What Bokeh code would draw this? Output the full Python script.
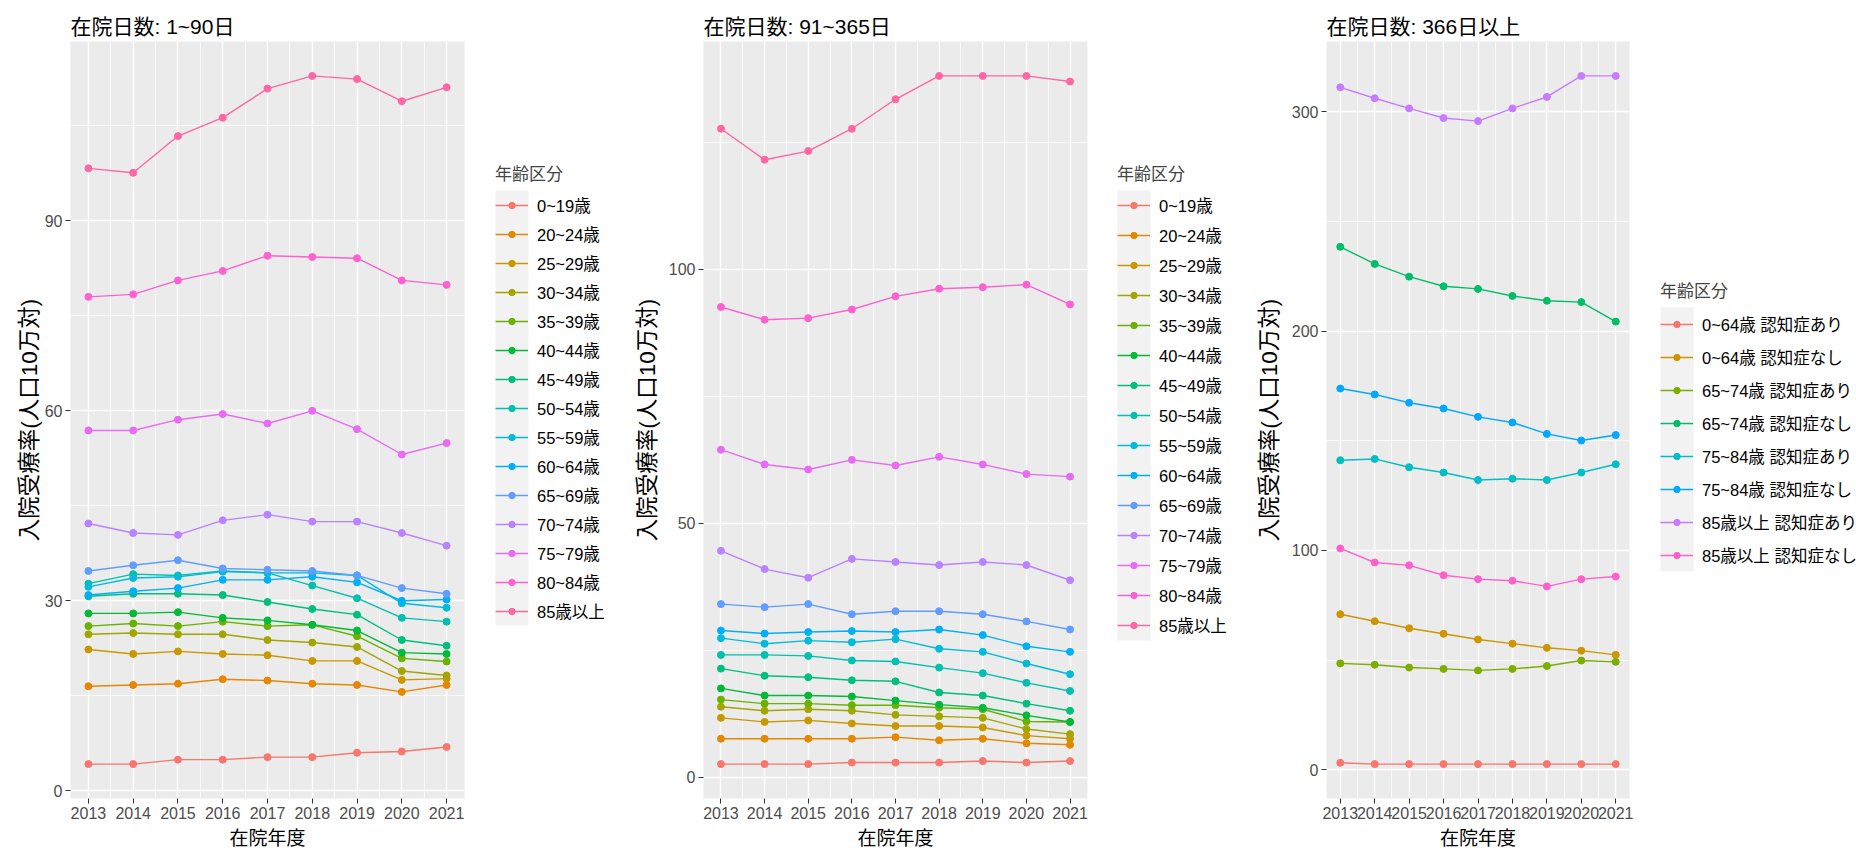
from bokeh.plotting import figure
from bokeh.models import Range1d, FixedTicker, Legend, LegendItem, BoxAnnotation
from bokeh.layouts import row
from bokeh.embed import file_html
from bokeh.resources import INLINE

years = [2013, 2014, 2015, 2016, 2017, 2018, 2019, 2020, 2021]

# ---- 在院日数: 1~90日 ----
ages15 = ["0~19歳", "20~24歳", "25~29歳", "30~34歳", "35~39歳", "40~44歳", "45~49歳",
          "50~54歳", "55~59歳", "60~64歳", "65~69歳", "70~74歳", "75~79歳", "80~84歳", "85歳以上"]
s1_00_19 = [4.2, 4.2, 4.9, 4.9, 5.3, 5.3, 6.0, 6.2, 6.9]
s1_20_24 = [16.5, 16.7, 16.9, 17.6, 17.4, 16.9, 16.7, 15.6, 16.7]
s1_25_29 = [22.3, 21.6, 22.0, 21.6, 21.4, 20.5, 20.5, 17.5, 17.7]
s1_30_34 = [24.7, 24.9, 24.7, 24.7, 23.8, 23.4, 22.7, 18.9, 18.2]
s1_35_39 = [26.0, 26.4, 26.0, 26.7, 26.0, 26.2, 24.4, 20.9, 20.4]
s1_40_44 = [28.0, 28.0, 28.2, 27.3, 26.9, 26.2, 25.3, 21.8, 21.6]
s1_45_49 = [30.7, 31.1, 31.1, 30.9, 29.8, 28.7, 27.8, 23.8, 22.9]
s1_50_54 = [32.7, 34.2, 34.0, 34.7, 34.4, 32.4, 30.4, 27.3, 26.7]
s1_55_59 = [32.2, 33.6, 33.8, 34.6, 34.4, 34.4, 34.0, 29.6, 28.9]
s1_60_64 = [30.9, 31.5, 32.0, 33.3, 33.3, 33.8, 32.9, 30.0, 30.2]
s1_65_69 = [34.7, 35.6, 36.4, 35.1, 34.9, 34.7, 34.0, 32.0, 31.1]
s1_70_74 = [42.2, 40.7, 40.4, 42.7, 43.6, 42.5, 42.5, 40.7, 38.7]
s1_75_79 = [56.9, 56.9, 58.6, 59.5, 58.0, 60.0, 57.1, 53.1, 54.9]
s1_80_84 = [78.0, 78.4, 80.6, 82.1, 84.5, 84.3, 84.1, 80.6, 79.9]
s1_85_up = [98.3, 97.6, 103.4, 106.3, 110.9, 112.9, 112.4, 108.9, 111.1]

# ---- 在院日数: 91~365日 ----
s2_00_19 = [2.6, 2.6, 2.6, 2.9, 2.9, 2.9, 3.2, 2.9, 3.2]
s2_20_24 = [7.6, 7.6, 7.6, 7.6, 7.9, 7.3, 7.6, 6.7, 6.4]
s2_25_29 = [11.7, 10.9, 11.2, 10.6, 10.1, 10.1, 9.8, 8.2, 7.6]
s2_30_34 = [13.9, 13.1, 13.4, 13.1, 12.3, 12.0, 11.7, 9.5, 8.5]
s2_35_39 = [15.3, 14.5, 14.5, 14.2, 14.2, 13.7, 13.4, 11.0, 10.9]
s2_40_44 = [17.5, 16.1, 16.1, 15.9, 15.1, 14.3, 13.7, 12.2, 10.9]
s2_45_49 = [21.4, 20.0, 19.7, 19.1, 18.9, 16.7, 16.1, 14.5, 13.1]
s2_50_54 = [24.1, 24.1, 23.9, 23.0, 22.8, 21.6, 20.5, 18.6, 17.0]
s2_55_59 = [27.4, 26.3, 26.9, 26.6, 27.2, 25.3, 24.7, 22.4, 20.3]
s2_60_64 = [28.9, 28.3, 28.6, 28.8, 28.6, 29.1, 28.0, 25.8, 24.7]
s2_65_69 = [34.1, 33.5, 34.1, 32.1, 32.7, 32.7, 32.1, 30.7, 29.1]
s2_70_74 = [44.6, 41.0, 39.3, 43.0, 42.4, 41.8, 42.4, 41.8, 38.8]
s2_75_79 = [64.5, 61.6, 60.6, 62.5, 61.4, 63.1, 61.6, 59.7, 59.2]
s2_80_84 = [92.6, 90.1, 90.4, 92.1, 94.7, 96.2, 96.5, 97.0, 93.1]
s2_85_up = [127.7, 121.6, 123.3, 127.7, 133.5, 138.1, 138.1, 138.1, 137.0]

# ---- 在院日数: 366日以上 ----
groups8 = ["0~64歳 認知症あり", "0~64歳 認知症なし", "65~74歳 認知症あり", "65~74歳 認知症なし",
           "75~84歳 認知症あり", "75~84歳 認知症なし", "85歳以上 認知症あり", "85歳以上 認知症なし"]
s3_00_64_d = [3.2, 2.6, 2.6, 2.6, 2.6, 2.6, 2.6, 2.6, 2.6]
s3_00_64_n = [70.9, 67.7, 64.5, 62.0, 59.4, 57.5, 55.6, 54.3, 52.4]
s3_65_74_d = [48.5, 47.9, 46.6, 46.0, 45.3, 46.0, 47.3, 49.8, 49.2]
s3_65_74_n = [238.4, 230.6, 224.8, 220.4, 219.2, 216.0, 213.8, 213.2, 204.3]
s3_75_84_d = [141.1, 141.7, 137.9, 135.5, 132.1, 132.7, 132.1, 135.5, 139.3]
s3_75_84_n = [173.8, 171.1, 167.3, 164.7, 160.9, 158.3, 153.1, 150.1, 152.6]
s3_85_up_d = [311.1, 306.1, 301.5, 297.1, 295.7, 301.5, 306.7, 316.3, 316.3]
s3_85_up_n = [100.9, 94.5, 93.2, 88.7, 86.9, 86.2, 83.6, 86.9, 88.1]

pal15 = ["#F8766D", "#E58700", "#C99800", "#A3A500", "#6BB100", "#00BA38", "#00BF7D",
         "#00C0AF", "#00BCD8", "#00B0F6", "#619CFF", "#B983FF", "#E76BF3", "#FD61D1", "#FF67A4"]
pal8 = ["#F8766D", "#CD9600", "#7CAE00", "#00BE67", "#00BFC4", "#00A9FF", "#C77CFF", "#FF61CC"]

FONT = "'Liberation Sans', 'Noto Sans CJK JP', sans-serif"
H = 851
TOP, BOTTOM = 41, 53
LINE_W, DOT = 1.4, 7


def chart(title, series, colors, width, left, right, yticks, yminor, ylab_standoff):
    allv = [v for s in series for v in s]
    lo, hi = min(allv), max(allv)
    pad = 0.05 * (hi - lo)
    p = figure(width=width, height=H, output_backend="svg", toolbar_location=None,
               x_range=Range1d(2012.6, 2021.4), y_range=Range1d(lo - pad, hi + pad),
               min_border_left=left, min_border_right=right,
               min_border_top=TOP, min_border_bottom=BOTTOM)
    p.background_fill_color = "#EBEBEB"
    p.border_fill_color = "white"
    p.outline_line_color = None

    p.title.text = title
    p.title.text_font = FONT
    p.title.text_font_size = "21px"
    p.title.text_font_style = "normal"
    p.title.text_color = "black"
    p.title.align = "left"
    p.title.standoff = 8

    p.xaxis.ticker = FixedTicker(ticks=years, minor_ticks=[y + 0.5 for y in years[:-1]])
    p.yaxis.ticker = FixedTicker(ticks=yticks, minor_ticks=yminor)
    for ax in (p.xaxis, p.yaxis):
        ax.axis_line_color = None
        ax.major_tick_line_color = "#333333"
        ax.major_tick_out = 5
        ax.major_tick_in = 0
        ax.minor_tick_line_color = None
        ax.major_label_text_font = FONT
        ax.major_label_text_font_size = "16px"
        ax.major_label_text_color = "#4D4D4D"
        ax.major_label_standoff = 3
        ax.axis_label_text_font = FONT
        ax.axis_label_text_font_style = "normal"
        ax.axis_label_text_color = "black"
    p.xaxis.axis_label = "在院年度"
    p.xaxis.axis_label_text_font_size = "19px"
    p.xaxis.axis_label_standoff = 6
    p.yaxis.axis_label = "入院受療率(人口10万対)"
    p.yaxis.axis_label_text_font_size = "22.5px"
    p.yaxis.axis_label_standoff = ylab_standoff

    for g in (p.xgrid, p.ygrid):
        g.grid_line_color = "white"
        g.grid_line_width = 1.4
        g.minor_grid_line_color = "white"
        g.minor_grid_line_width = 0.7

    for s, c in zip(series, colors):
        p.line(years, s, line_color=c, line_width=LINE_W)
    for s, c in zip(series, colors):
        p.scatter(years, s, size=DOT, fill_color=c, line_color=c)
    return p


def legend_panel(names, colors, width, key_left, key_top, row_h):
    # frame spans the same rows as the charts; one data unit per pixel, y downwards
    frame_bottom = H - BOTTOM
    lf = figure(width=width, height=H, output_backend="svg", toolbar_location=None,
                title=None, x_range=Range1d(0, width), y_range=Range1d(frame_bottom, TOP),
                min_border_left=0, min_border_right=0,
                min_border_top=TOP, min_border_bottom=BOTTOM,
                x_axis_location=None, y_axis_location=None)
    lf.grid.visible = False
    lf.outline_line_color = None
    lf.background_fill_color = "white"
    lf.border_fill_color = "white"

    n = len(names)
    key_w = 33
    lf.add_layout(BoxAnnotation(left=key_left, right=key_left + key_w,
                                top=key_top, bottom=key_top + n * row_h,
                                fill_color="#F2F2F2", fill_alpha=1.0, line_color=None,
                                level="underlay"))
    nan = float("nan")
    items = []
    for nm, c in zip(names, colors):
        # style carriers for the key swatches; a single NaN point draws nothing
        ln = lf.line(x=[nan], y=[nan], line_color=c, line_width=LINE_W)
        dt = lf.scatter(x=[nan], y=[nan], size=DOT, fill_color=c, line_color=c)
        items.append(LegendItem(label=nm, renderers=[ln, dt]))
    legend = Legend(items=items, title="年齢区分",
                    location=(key_left, frame_bottom - (key_top + n * row_h)),
                    orientation="vertical", padding=0, margin=0, spacing=0,
                    glyph_width=key_w, glyph_height=16, label_height=row_h,
                    label_standoff=9, label_text_font=FONT,
                    label_text_font_size="16.5px", label_text_color="black",
                    title_text_font=FONT, title_text_font_size="17px",
                    title_text_font_style="normal", title_standoff=5,
                    background_fill_alpha=0, border_line_color=None,
                    click_policy="none")
    lf.add_layout(legend)
    return lf


series1 = [s1_00_19, s1_20_24, s1_25_29, s1_30_34, s1_35_39, s1_40_44, s1_45_49, s1_50_54,
           s1_55_59, s1_60_64, s1_65_69, s1_70_74, s1_75_79, s1_80_84, s1_85_up]
series2 = [s2_00_19, s2_20_24, s2_25_29, s2_30_34, s2_35_39, s2_40_44, s2_45_49, s2_50_54,
           s2_55_59, s2_60_64, s2_65_69, s2_70_74, s2_75_79, s2_80_84, s2_85_up]
series3 = [s3_00_64_d, s3_00_64_n, s3_65_74_d, s3_65_74_n, s3_75_84_d, s3_75_84_n,
           s3_85_up_d, s3_85_up_n]

p1 = chart("在院日数: 1~90日", series1, pal15, 480, 70, 16,
           [0, 30, 60, 90], [15, 45, 75, 105], 0)
l1 = legend_panel(ages15, pal15, 140, 15, 190, 29)
p2 = chart("在院日数: 91~365日", series2, pal15, 480, 83, 13,
           [0, 50, 100], [25, 75, 125], 6)
l2 = legend_panel(ages15, pal15, 150, 17, 190, 30)
p3 = chart("在院日数: 366日以上", series3, pal8, 390, 76, 11,
           [0, 100, 200, 300], [50, 150, 250], 7)
l3 = legend_panel(groups8, pal8, 216, 20, 307, 33)

layout = row(p1, l1, p2, l2, p3, l3)
open("out.html", "w").write(file_html(layout, INLINE))
